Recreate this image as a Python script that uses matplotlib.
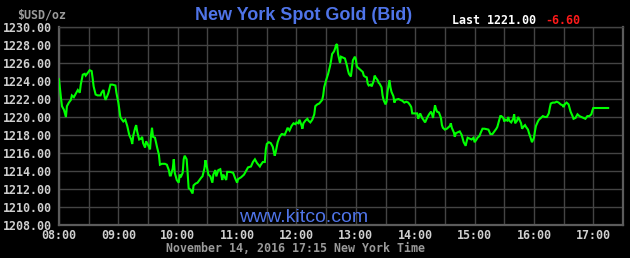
import matplotlib
matplotlib.use("Agg")
import matplotlib.pyplot as plt
from matplotlib.ticker import FixedLocator, MultipleLocator

# ---- data: minutes after 08:00 and bid price ----
minutes = [0, 2, 3, 5, 7, 8, 10, 12, 13, 15, 17, 19, 21, 22, 24, 26, 27, 29, 31, 33, 34, 35, 37, 39, 42, 43, 45, 46, 47, 49,
           50, 52, 54, 57, 58, 60, 62, 63, 65, 67, 69, 71, 73, 74, 75, 77, 78, 79, 81, 83, 84, 85, 87, 88, 90, 92, 93, 94, 95, 97,
           99, 101, 102, 104, 107, 109, 111, 112, 113, 115, 116, 117, 119, 121, 122, 123, 125, 126, 127, 129, 130, 131, 133, 135, 136, 138, 140, 142, 144, 145,
           147, 148, 149, 151, 153, 155, 156, 158, 159, 161, 163, 165, 166, 167, 169, 170, 173, 176,
           178, 180, 181, 184, 187, 189, 191, 194, 196, 198, 200, 203, 204, 206, 208, 209, 210, 212, 214, 216, 218, 219, 221, 223, 225, 226, 228, 230, 231, 233,
           235, 237, 239, 240, 242, 243, 245, 246, 247, 249, 251, 252, 254, 256, 258, 259, 261, 263, 266, 267, 268, 270, 272, 274, 275, 276, 278, 279, 280, 281,
           282, 284, 285, 287, 289, 291, 292, 293, 295, 296, 297, 299, 300, 301, 303, 305, 307, 308, 309, 311, 312, 313, 315, 316, 318, 319, 320, 322, 323, 324,
           326, 327, 328, 330, 331, 332, 334, 335, 336, 338, 339, 340, 343, 345, 347, 349, 351, 353, 355, 356, 357,
           359, 362, 363, 365, 367, 370, 372, 374, 376, 377, 378, 380, 381, 382, 384, 386, 387, 388, 390, 392, 395, 396, 397, 399, 400, 401, 403, 405, 407, 408,
           409, 411, 412, 413, 415, 417, 419, 420, 422, 423, 425, 426, 428, 430, 434, 436, 438, 440, 442, 443, 445, 446, 447, 449, 450, 451, 453, 454, 455, 457,
           459, 460, 461, 463, 464, 465, 467, 468, 470, 471, 472, 474, 475, 476, 478, 480, 481, 482, 484, 485, 487, 489, 491, 493, 495, 496, 497, 499, 501, 503,
           505, 507, 509, 510, 511, 513, 515, 516, 517, 519, 520, 522, 524, 526, 528, 530, 532, 534, 536, 538, 539, 540, 555]
prices = [1224.2, 1222.1, 1221.2, 1220.8, 1220.0, 1221.2, 1221.6, 1221.9, 1222.4, 1222.2, 1222.6, 1223.0, 1222.7, 1223.6, 1224.7, 1224.8, 1224.6, 1224.9, 1225.2, 1225.1, 1224.3, 1223.4, 1222.5, 1222.4, 1222.4, 1222.7, 1223.0, 1222.3, 1221.9, 1222.4,
          1222.7, 1223.6, 1223.6, 1223.5, 1222.7, 1221.6, 1220.0, 1219.8, 1219.5, 1219.7, 1219.0, 1218.0, 1217.5, 1217.0, 1217.9, 1218.8, 1219.1, 1218.4, 1217.5, 1217.6, 1217.8, 1217.1, 1216.6, 1217.3, 1216.9, 1216.4, 1218.0, 1218.8, 1217.8, 1217.7,
          1216.7, 1215.8, 1214.7, 1214.8, 1214.8, 1214.7, 1214.1, 1213.5, 1213.5, 1214.3, 1215.3, 1213.8, 1213.0, 1212.7, 1213.6, 1213.3, 1213.8, 1215.3, 1215.7, 1215.3, 1213.8, 1212.1, 1211.9, 1211.5, 1212.4, 1212.6, 1212.7, 1213.0, 1213.3, 1213.4,
          1214.3, 1215.2, 1214.7, 1213.6, 1213.4, 1212.7, 1213.6, 1214.1, 1213.4, 1214.1, 1214.2, 1213.0, 1213.6, 1213.4, 1213.0, 1213.9, 1213.9, 1213.8,
          1213.2, 1212.7, 1213.1, 1213.3, 1213.6, 1214.0, 1214.4, 1214.5, 1215.0, 1215.3, 1214.9, 1214.5, 1214.7, 1215.0, 1215.0, 1216.4, 1217.0, 1217.2, 1217.1, 1216.7, 1215.7, 1216.1, 1217.2, 1217.8, 1218.1, 1218.1, 1218.0, 1218.5, 1218.8, 1218.5,
          1219.0, 1219.3, 1219.2, 1219.4, 1219.3, 1219.7, 1219.1, 1218.7, 1219.3, 1219.6, 1219.8, 1219.6, 1219.4, 1219.7, 1220.3, 1221.2, 1221.4, 1221.5, 1221.9, 1222.4, 1223.3, 1224.1, 1224.8, 1225.7, 1226.3, 1227.0, 1227.3, 1227.6, 1228.0, 1228.1,
          1227.0, 1226.0, 1226.7, 1226.6, 1226.5, 1225.7, 1225.2, 1224.8, 1224.5, 1225.4, 1226.3, 1226.7, 1226.4, 1225.6, 1225.4, 1225.2, 1225.0, 1224.6, 1224.5, 1224.4, 1223.7, 1223.5, 1223.6, 1223.4, 1224.0, 1224.6, 1224.4, 1224.1, 1223.8, 1223.7,
          1223.3, 1222.4, 1221.9, 1221.4, 1221.7, 1222.8, 1224.1, 1223.3, 1222.8, 1222.3, 1221.6, 1221.9, 1222.0, 1221.9, 1221.8, 1221.6, 1221.7, 1221.6, 1221.3, 1221.1, 1220.4,
          1220.4, 1220.4, 1219.8, 1220.4, 1219.9, 1219.4, 1219.9, 1220.3, 1220.6, 1220.3, 1219.9, 1221.3, 1220.9, 1220.6, 1220.5, 1219.9, 1219.1, 1218.8, 1218.6, 1218.7, 1219.0, 1219.3, 1218.8, 1218.3, 1217.8, 1218.2, 1218.3, 1218.4, 1218.0, 1217.6,
          1217.2, 1216.8, 1217.3, 1217.7, 1217.6, 1217.5, 1217.7, 1217.2, 1217.5, 1217.7, 1217.9, 1218.2, 1218.7, 1218.7, 1218.6, 1218.1, 1218.1, 1218.4, 1218.7, 1218.9, 1219.7, 1220.1, 1220.1, 1219.9, 1219.5, 1219.7, 1219.6, 1220.0, 1219.6, 1219.4,
          1219.8, 1220.3, 1219.3, 1219.6, 1220.0, 1219.8, 1219.3, 1218.7, 1219.0, 1219.1, 1218.9, 1218.6, 1218.2, 1217.9, 1217.2, 1217.7, 1218.4, 1219.0, 1219.5, 1219.7, 1219.9, 1220.1, 1220.0, 1220.0, 1220.4, 1221.0, 1221.5, 1221.6, 1221.6, 1221.7,
          1221.6, 1221.4, 1221.3, 1221.1, 1221.4, 1221.6, 1221.4, 1221.0, 1220.6, 1220.1, 1219.8, 1219.9, 1220.3, 1220.1, 1220.0, 1219.9, 1219.8, 1220.1, 1220.1, 1220.3, 1220.7, 1221.0, 1221.0]

hour_ticks = [0, 60, 120, 180, 240, 300, 360, 420, 480, 540]
hour_labels = ["08:00", "09:00", "10:00", "11:00", "12:00", "13:00", "14:00", "15:00", "16:00", "17:00"]
y_ticks = list(range(1208, 1231, 2))
y_labels = [f"{v:.2f}" for v in y_ticks]

title = "New York Spot Gold (Bid)"
last_text = "Last 1221.00"
change_text = "-6.60"
unit_text = "$USD/oz"
site_text = "www.kitco.com"
footer_text = "November 14, 2016 17:15 New York Time"

W, H = 630, 258
fig = plt.figure(figsize=(W / 100, H / 100), dpi=100, facecolor="black")
ax = fig.add_axes([59 / W, 1 - 225 / H, (623 - 59) / W, (225 - 27) / H], facecolor="black")

ax.plot(minutes, prices, color="#00ff00", lw=1.5, solid_joinstyle="miter", zorder=3)

ax.set_xlim(0, 570)
ax.set_ylim(1208, 1230)
ax.xaxis.set_major_locator(FixedLocator(hour_ticks))
ax.xaxis.set_minor_locator(MultipleLocator(30))
ax.set_xticklabels(hour_labels)
ax.set_yticks(y_ticks)
ax.set_yticklabels(y_labels)
ax.grid(True, which="both", axis="x", color="#444444", lw=1.0)
ax.grid(True, which="major", axis="y", color="#444444", lw=1.0)
ax.tick_params(which="both", length=0)
ax.tick_params(axis="x", pad=3)
ax.tick_params(axis="y", pad=5)
mono = {"family": "DejaVu Sans Mono", "weight": "bold", "size": 8.4}
for lab in ax.get_xticklabels() + ax.get_yticklabels():
    lab.set_fontfamily("DejaVu Sans Mono")
    lab.set_fontweight("bold")
    lab.set_fontsize(8.4)
    lab.set_color("#cfcfcf")
for s in ax.spines.values():
    s.set_color("#5c5c5c")
    s.set_linewidth(1.6)
ax.spines["top"].set_color("#444444")
ax.spines["top"].set_linewidth(1.0)

def px(x, y):
    return x / W, 1 - y / H

fig.text(*px(304, 16), title, ha="center", va="center", color="#4f74e8",
         fontfamily="Liberation Sans", fontweight="bold", fontsize=13)
fig.text(*px(452, 20), last_text, ha="left", va="center", color="white", **mono)
fig.text(*px(545, 20), change_text, ha="left", va="center", color="#ff1a1a", **mono)
fig.text(*px(42, 15), unit_text, ha="center", va="center", color="#9a9a9a", **mono)
fig.text(*px(304, 217), site_text, ha="center", va="center", color="#4f74e8",
         fontfamily="Liberation Sans", fontsize=14)
fig.text(*px(295, 248.5), footer_text, ha="center", va="center", color="#9a9a9a", **mono)

fig.savefig("out.png", dpi=100, facecolor="black")
